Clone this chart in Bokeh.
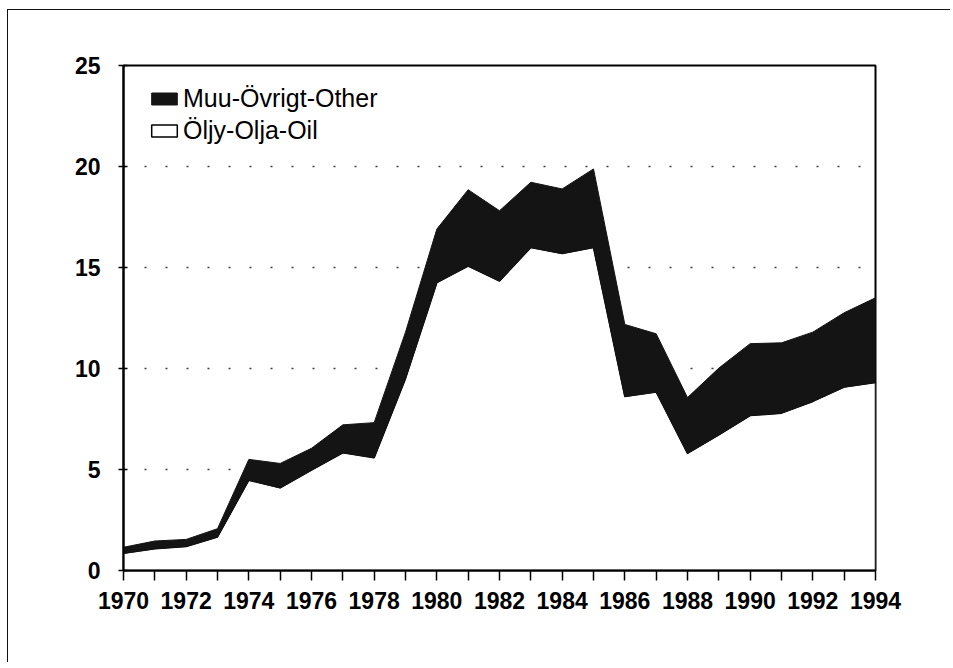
from bokeh.plotting import figure
from bokeh.models import (ColumnDataSource, Legend, LegendItem, FixedTicker,
                          Range1d)
from bokeh.embed import file_html
from bokeh.resources import INLINE

years = list(range(1970, 1995))
oil = [0.85, 1.08, 1.19, 1.66, 4.47, 4.09, 4.97, 5.83, 5.58, 9.5,
       14.25, 15.07, 14.33, 15.99, 15.69, 15.99, 8.61, 8.84, 5.80, 6.71,
       7.67, 7.79, 8.37, 9.08, 9.31]
other = [0.30, 0.38, 0.35, 0.41, 1.03, 1.21, 1.08, 1.38, 1.74, 2.30,
         2.65, 3.78, 3.48, 3.23, 3.20, 3.89, 3.57, 2.88, 2.76, 3.31,
         3.56, 3.48, 3.43, 3.68, 4.19]
x_tick_labels = list(range(1970, 1995, 2))
y_ticks = [0, 5, 10, 15, 20, 25]
label_other = "Muu-Övrigt-Other"
label_oil = "Öljy-Olja-Oil"

# stacked polygons built from the series
total = [o + t for o, t in zip(oil, other)]
rev = years[::-1]
oil_src = ColumnDataSource(dict(x=years + rev, y=oil + [0] * len(years)))
oth_src = ColumnDataSource(dict(x=years + rev, y=total + oil[::-1]))

FONT = "'Liberation Sans', Arial, sans-serif"
DARK = "#141414"

p = figure(frame_width=752, frame_height=505,
           min_border_left=115, min_border_right=75,
           min_border_top=55, min_border_bottom=92,
           output_backend="svg", toolbar_location=None,
           x_range=Range1d(1970, 1994), y_range=Range1d(0, 25),
           styles={"margin-left": "7px", "margin-top": "9px",
                   "border-left": "1.5px solid #111",
                   "border-top": "1.5px solid #111"})
p.background_fill_color = "white"
p.border_fill_color = "white"
p.outline_line_color = "black"
p.outline_line_width = 2

p.xgrid.grid_line_color = None
p.ygrid.grid_line_color = "black"
p.ygrid.grid_line_dash = "2 19"
p.ygrid.grid_line_width = 1.5
p.ygrid.grid_line_alpha = 0.75

r_oil = p.patch(x="x", y="y", source=oil_src, fill_color="white",
                line_color="black", line_width=1.5)
r_other = p.patch(x="x", y="y", source=oth_src, fill_color=DARK,
                  line_color=DARK, line_width=1)

legend = Legend(items=[LegendItem(label=label_other, renderers=[r_other]),
                       LegendItem(label=label_oil, renderers=[r_oil])],
                location=(25, 425), margin=0, padding=0, spacing=3,
                glyph_width=32, glyph_height=15, label_standoff=3,
                label_text_font=FONT, label_text_font_size="25px",
                label_text_color="black",
                label_height=28, border_line_color=None,
                background_fill_alpha=0)
p.add_layout(legend, "center")

# axes
p.xaxis.ticker = FixedTicker(ticks=x_tick_labels,
                             minor_ticks=[y for y in years if y not in x_tick_labels])
p.yaxis.ticker = FixedTicker(ticks=y_ticks, minor_ticks=[])
for ax in (p.xaxis[0], p.yaxis[0]):
    ax.axis_line_width = 2
    ax.axis_line_color = "black"
    ax.major_tick_line_color = "black"
    ax.major_tick_line_width = 1.5
    ax.minor_tick_line_color = "black"
    ax.minor_tick_line_width = 1.5
    ax.major_label_text_font = FONT
    ax.major_label_text_font_style = "bold"
    ax.major_label_text_font_size = "23px"
    ax.major_label_text_color = "black"
p.xaxis.major_tick_in = 0
p.xaxis.major_tick_out = 10
p.xaxis.minor_tick_in = 0
p.xaxis.minor_tick_out = 10
p.xaxis.major_label_standoff = 11
p.yaxis.major_tick_in = 4
p.yaxis.major_tick_out = 5
p.yaxis.major_label_standoff = 18

open("out.html", "w").write(file_html(p, INLINE))
